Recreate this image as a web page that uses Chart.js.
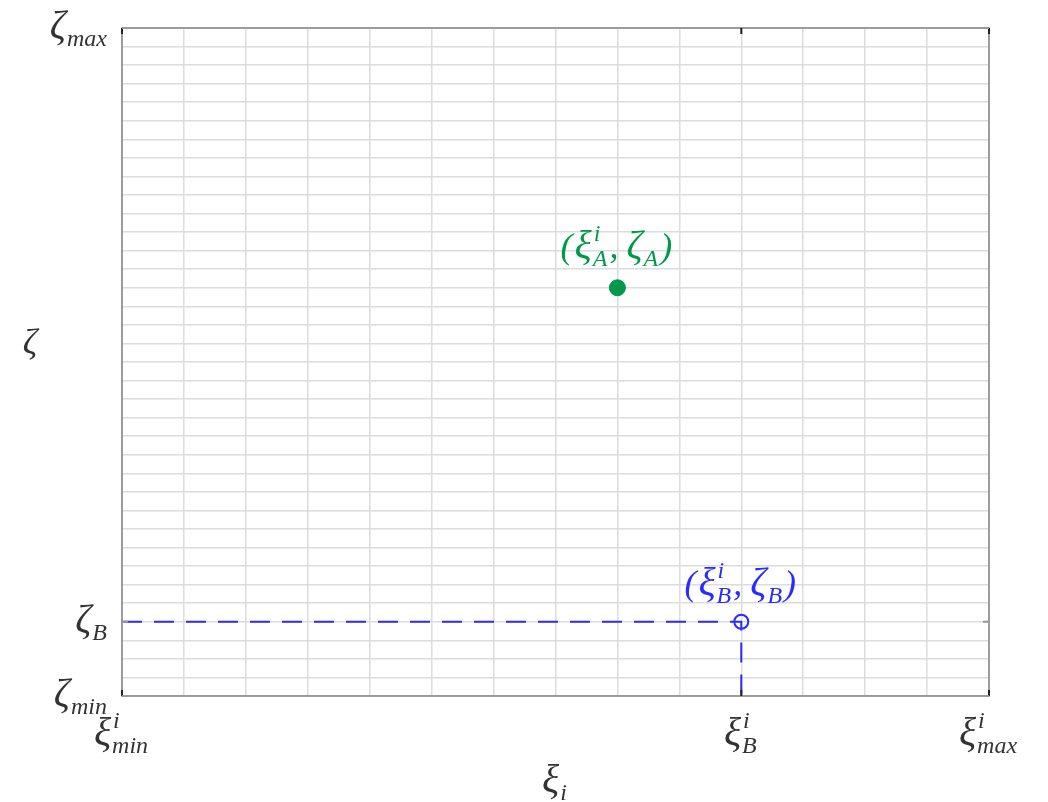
<!DOCTYPE html>
<html>
<head>
<meta charset="utf-8">
<script src="https://cdn.jsdelivr.net/npm/chart.js@4/dist/chart.umd.min.js"></script>
<style>
  body { margin: 0; background: #fff; }
  canvas { display: block; }
</style>
</head>
<body>
<canvas id="pointChart" width="1048" height="802"></canvas>
<script>
// axis ranges (grid steps of 1)
const xRange = [0, 14]
const yRange = [0, 36]

// tick values and their labels: [base, superscript, subscript]
const xTickValues = [0, 10, 14]
const xTickLabels = [['ξ', 'i', 'min'], ['ξ', 'i', 'B'], ['ξ', 'i', 'max']]
const yTickValues = [0, 4, 36]
const yTickLabels = [['ζ', '', 'min'], ['ζ', '', 'B'], ['ζ', '', 'max']]

// the two points
const pointA = [8, 22]
const pointB = [10, 4]

// dashed guide from the y axis to B and down to the x axis
const guideX = [0, 10, 10]
const guideY = [4, 4, 0]

const green = '#00994c'
const blue = '#2b2bff'
const GREEK = 40 // greek base symbols
const MAIN = 36 // brackets and commas
const SMALL = 24 // sub/superscripts

function mathFont(size) {
  return 'italic ' + size + 'px "Liberation Serif", "DejaVu Serif", serif'
}

// a label is a list of pieces: plain strings, or [base, sup, sub]
function pieceWidth(ctx, p) {
  if (typeof p === 'string') {
    ctx.font = mathFont(MAIN)
    return ctx.measureText(p).width + (p === ',' ? 8 : 2)
  }
  ctx.font = mathFont(GREEK)
  const wb = ctx.measureText(p[0]).width
  ctx.font = mathFont(SMALL)
  const ws = Math.max(ctx.measureText(p[1]).width, ctx.measureText(p[2]).width)
  return wb + ws + 3
}

function drawMath(ctx, pieces, x, y, align, color) {
  let total = 0
  pieces.forEach((p) => (total += pieceWidth(ctx, p)))
  let cx = align === 'right' ? x - total : align === 'center' ? x - total / 2 : x
  ctx.save()
  ctx.fillStyle = color
  ctx.textBaseline = 'alphabetic'
  ctx.textAlign = 'left'
  pieces.forEach((p) => {
    if (typeof p === 'string') {
      ctx.font = mathFont(MAIN)
      ctx.fillText(p, cx, y)
      cx += pieceWidth(ctx, p)
      return
    }
    ctx.font = mathFont(GREEK)
    ctx.fillText(p[0], cx, y)
    const wb = ctx.measureText(p[0]).width
    ctx.font = mathFont(SMALL)
    if (p[1]) ctx.fillText(p[1], cx + wb + 2, y - 17)
    if (p[2]) ctx.fillText(p[2], cx + wb + 1, y + 8)
    cx += pieceWidth(ctx, p)
  })
  ctx.restore()
}

// box, tick marks and all the math text
const mathLabels = {
  id: 'mathLabels',
  afterDatasetsDraw(chart) {
    const ctx = chart.ctx
    const area = chart.chartArea
    const xs = chart.scales.x
    const ys = chart.scales.y

    // plot frame
    ctx.save()
    ctx.strokeStyle = '#8a8a8a'
    ctx.lineWidth = 1.6
    ctx.strokeRect(area.left, area.top, area.right - area.left, area.bottom - area.top)

    // small inner tick marks
    ctx.strokeStyle = '#222'
    ctx.lineWidth = 2
    xTickValues.forEach((v) => {
      const px = xs.getPixelForValue(v)
      ctx.beginPath()
      ctx.moveTo(px, area.bottom)
      ctx.lineTo(px, area.bottom - 6)
      ctx.moveTo(px, area.top)
      ctx.lineTo(px, area.top + 6)
      ctx.stroke()
    })
    ctx.strokeStyle = '#999'
    yTickValues.forEach((v) => {
      const py = ys.getPixelForValue(v)
      ctx.beginPath()
      ctx.moveTo(area.left, py)
      ctx.lineTo(area.left + 6, py)
      ctx.moveTo(area.right, py)
      ctx.lineTo(area.right - 6, py)
      ctx.stroke()
    })
    ctx.restore()

    const ink = '#333'
    xTickValues.forEach((v, i) => {
      drawMath(ctx, [xTickLabels[i]], xs.getPixelForValue(v), area.bottom + 49, 'center', ink)
    })
    yTickValues.forEach((v, i) => {
      drawMath(ctx, [yTickLabels[i]], area.left - 13, ys.getPixelForValue(v) + 10, 'right', ink)
    })

    // axis titles
    drawMath(ctx, [['ξ', '', 'i']], (area.left + area.right) / 2, 792, 'center', ink)
    drawMath(ctx, ['ζ'], 31, 354, 'center', ink)

    // point annotations
    drawMath(ctx, ['(', ['ξ', 'i', 'A'], ',', ['ζ', '', 'A'], ')'],
      xs.getPixelForValue(pointA[0]), ys.getPixelForValue(pointA[1]) - 30, 'center', green)
    drawMath(ctx, ['(', ['ξ', 'i', 'B'], ',', ['ζ', '', 'B'], ')'],
      xs.getPixelForValue(pointB[0]), ys.getPixelForValue(pointB[1]) - 27, 'center', blue)
  },
}

const guideData = guideX.map((x, i) => ({ x: x, y: guideY[i] }))

new Chart(document.getElementById('pointChart').getContext('2d'), {
  type: 'scatter',
  data: {
    datasets: [
      {
        type: 'line',
        data: guideData,
        borderColor: blue,
        borderWidth: 2,
        borderDash: [20, 12],
        pointRadius: 0,
        fill: false,
        tension: 0,
      },
      {
        data: [{ x: pointB[0], y: pointB[1] }],
        pointRadius: 7,
        pointBackgroundColor: 'rgba(0,0,0,0)',
        pointBorderColor: blue,
        pointBorderWidth: 2,
      },
      {
        data: [{ x: pointA[0], y: pointA[1] }],
        pointRadius: 8,
        pointBackgroundColor: green,
        pointBorderColor: green,
        pointBorderWidth: 1,
      },
    ],
  },
  options: {
    responsive: false,
    animation: false,
    layout: { padding: { left: 122, right: 59, top: 28, bottom: 106 } },
    plugins: { legend: { display: false }, tooltip: { enabled: false } },
    scales: {
      x: {
        type: 'linear',
        min: xRange[0],
        max: xRange[1],
        ticks: { display: false, stepSize: 1 },
        grid: { color: '#dcdcdc', lineWidth: 1.5, drawTicks: false },
        border: { display: false },
        afterFit: (s) => { s.height = 0 },
      },
      y: {
        type: 'linear',
        min: yRange[0],
        max: yRange[1],
        ticks: { display: false, stepSize: 1 },
        grid: { color: '#dcdcdc', lineWidth: 1.5, drawTicks: false },
        border: { display: false },
        afterFit: (s) => { s.width = 0 },
      },
    },
  },
  plugins: [mathLabels],
})
</script>
</body>
</html>
